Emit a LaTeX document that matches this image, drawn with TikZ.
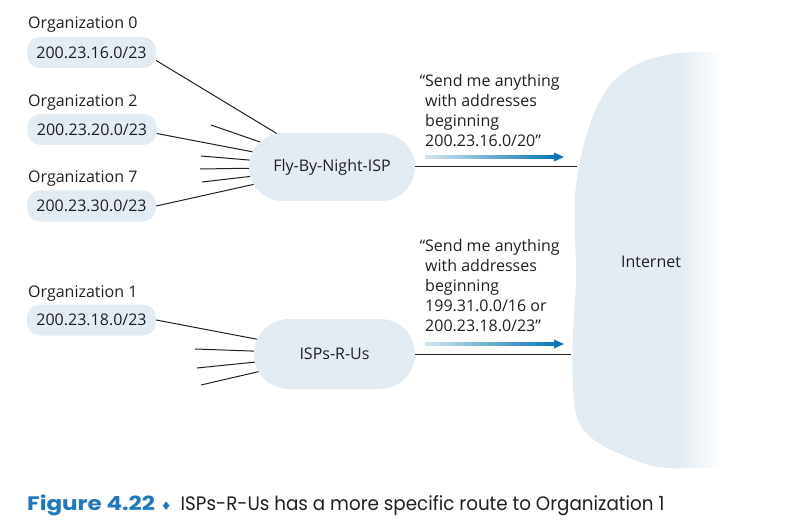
\documentclass[tikz,border=0pt]{standalone}
\usepackage{fontspec}
\usepackage{graphicx}
\setmainfont{Open Sans}
\newfontfamily\capfont{Poppins}
\newfontfamily\symfont{DejaVu Sans}
\usetikzlibrary{shapes.misc,calc}
\definecolor{cloudfill}{HTML}{E2ECF2}
\definecolor{figblue}{HTML}{1C79BE}
\definecolor{arrowblue}{HTML}{0A77B4}
\definecolor{arrowlight}{HTML}{D4E6F1}
\definecolor{ink}{HTML}{231F20}
\begin{document}
\begin{tikzpicture}[x=1pt,y=-1pt,
  every node/.style={text=ink, font=\fontsize{16}{20}\selectfont},
  orglabel/.style={anchor=base west, inner sep=0},
  addr/.style={fill=cloudfill, rounded corners=13pt, minimum width=129pt, minimum height=31pt, inner sep=0},
  ispcloud/.style={shape=rounded rectangle, fill=cloudfill, inner sep=0},
  link/.style={draw=ink, line width=1pt},
  msg/.style={anchor=north west, align=left, inner sep=0}
]
\useasboundingbox (0,0) rectangle (799,529);

% Internet cloud
\begin{scope}
  \clip (760,53) -- (700,52) .. controls (660,52) and (630,62) .. (610,85)
    .. controls (590,110) and (578,160) .. (575,195)
    .. controls (573,230) and (578,260) .. (575,300)
    .. controls (572,340) and (571,380) .. (575,410)
    .. controls (580,440) and (610,450) .. (640,462)
    .. controls (655,468) and (670,469) .. (690,468) -- (760,468) -- cycle;
  \fill[cloudfill] (560,40) rectangle (677,480);
  \shade[left color=cloudfill, right color=white] (677,40) rectangle (723,480);
\end{scope}
\node (inet) at (651,262) {Internet};
\coordinate (inA) at (577,0);
\coordinate (inB) at (571,0);

% Organizations
\node[orglabel] (l0) at (28,29) {Organization 0};
\node[addr] (o0) at (91.5,52.5) {200.23.16.0/23};
\node[orglabel] (l2) at (28,107) {Organization 2};
\node[addr] (o2) at (92,129.5) {200.23.20.0/23};
\node[orglabel] (l7) at (28,183) {Organization 7};
\node[addr] (o7) at (91.5,206) {200.23.30.0/23};
\node[orglabel] (l1) at (28,297) {Organization 1};
\node[addr] (o1) at (91.5,320) {200.23.18.0/23};

% ISP clouds
\node[ispcloud, minimum width=166pt, minimum height=68pt] (fly) at (332,167) {Fly-By-Night-ISP};
\node[ispcloud, minimum width=161pt, minimum height=70pt] (isp) at (334.5,354) {ISPs-R-Us};

% stubs
\coordinate (s1) at (211,125);
\coordinate (s2) at (201,156);
\coordinate (s3) at (200,169);
\coordinate (s4) at (202,182);
\coordinate (t1) at (195,349);
\coordinate (t2) at (197,368);
\coordinate (t3) at (201,385);

\draw[link] ($(o0.east)+(0,8)$) -- (fly);
\draw[link] ($(o2.east)+(0,4)$) -- (fly);
\draw[link] (o7.east) -- (fly);
\draw[link] (o1.east) -- (isp);
\foreach \s in {s1,s2,s3,s4} \draw[link] (\s) -- (fly);
\foreach \s in {t1,t2,t3} \draw[link] (\s) -- (isp);

\draw[link] (fly.east) -- (fly.east -| inA);
\draw[link] (isp.east) -- (isp.east -| inB);

% messages
\node[msg] (m1) at (425,74) {\llap{“}Send me anything\\with addresses\\beginning\\200.23.16.0/20”};
\node[msg] (m2) at (425,239) {\llap{“}Send me anything\\with addresses\\beginning\\199.31.0.0/16 or\\200.23.18.0/23”};

% arrows
\coordinate (a1s) at (425,157);
\coordinate (a1e) at (564,157);
\coordinate (a2s) at (425,344);
\coordinate (a2e) at (564,344);
\foreach \a/\b in {a1s/a1e,a2s/a2e}{
  \shade[left color=arrowlight, right color=arrowblue] ($(\a)+(0,-1.6)$) rectangle ($(\b)+(-9,1.6)$);
  \fill[arrowblue] ($(\b)+(-10,-4.5)$) -- (\b) -- ($(\b)+(-10,4.5)$) -- cycle;
}

% caption
\node[anchor=base west, inner sep=0] (cap) at (27,510) {\capfont\fontsize{19.5}{24}\selectfont\scalebox{1.18}[1]{\color{figblue}\bfseries Figure 4.22}\hspace{6pt}{\color{figblue}\symfont\fontsize{12}{14}\selectfont ♦}\hspace{9pt}\scalebox{0.94}[1]{ISPs-R-Us has a more specific route to Organization 1}};
\end{tikzpicture}
\end{document}
